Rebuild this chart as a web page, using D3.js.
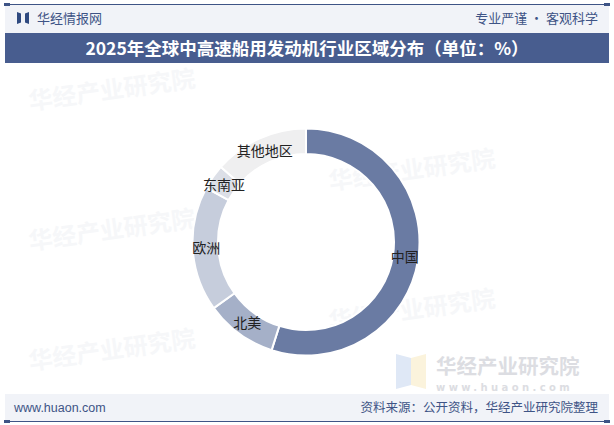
<!DOCTYPE html>
<html><head><meta charset="utf-8">
<script src="https://cdn.jsdelivr.net/npm/d3@7/dist/d3.min.js"></script>
<style>html,body{margin:0;padding:0;background:#fff;}svg{display:block;}</style>
</head><body>
<script>
const categories = ["中国", "北美", "欧洲", "东南亚", "其他地区"];
const values = [54.9, 10.2, 17.8, 3.6, 13.5];
const colors = ["#6a7ba3", "#a5b0c8", "#c6cddc", "#dcdfe7", "#efeff0"];
const title = "2025年全球中高速船用发动机行业区域分布（单位：%）";

const W = 614, H = 425;
const svg = d3.select("body").append("svg").attr("width", W).attr("height", H);
const font = "'Noto Sans CJK SC','Noto Sans',sans-serif";

// watermarks (behind everything)
const wm = svg.append("g").attr("font-family",font).attr("font-weight","bold");
[[30,110],[30,250],[30,370],[330,190],[330,330]].forEach(([x,y])=>{
  wm.append("text").attr("x",x).attr("y",y).attr("transform",`rotate(-8,${x},${y})`).attr("font-size",24).attr("fill","#f6f7f9").text("华经产业研究院");
});

// header
svg.append("rect").attr("x",5).attr("y",5).attr("width",604).attr("height",28).attr("fill","#f1f3f8");
svg.append("line").attr("x1",5).attr("x2",609).attr("y1",4.5).attr("y2",4.5).attr("stroke","#3e5486").attr("stroke-width",1.2);
svg.append("rect").attr("x",4).attr("y",3).attr("width",6).attr("height",3).attr("fill","#3e5486");
svg.append("rect").attr("x",604).attr("y",3).attr("width",6).attr("height",3).attr("fill","#3e5486");
// logo
svg.append("path").attr("d","M17,12 L21,13.5 L21,22.5 L17,24 Z").attr("fill","#2f4a80");
svg.append("path").attr("d","M29,12 L25,13.5 L25,22.5 L29,24 Z").attr("fill","#2f4a80");
svg.append("text").attr("x",37).attr("y",23).attr("font-family",font).attr("font-size",13).attr("fill","#3e5486").text("华经情报网");
svg.append("text").attr("x",598).attr("y",23).attr("text-anchor","end").attr("font-family",font).attr("font-size",13).attr("fill","#3e5486").text("专业严谨 • 客观科学");

// title band
svg.append("rect").attr("x",5).attr("y",33).attr("width",604).attr("height",30).attr("fill","#485d8f");
svg.append("text").attr("x",307).attr("y",54.5).attr("text-anchor","middle").attr("font-family","'Noto Sans CJK SC',sans-serif").attr("font-weight","bold").attr("font-size",17.5).attr("fill","#ffffff").text(title);

// lower right watermark
svg.append("path").attr("d","M396,354 L411,358 L411,385 L396,389 Z").attr("fill","#dfe8f6");
svg.append("path").attr("d","M426,354 L411,358 L411,385 L426,389 Z").attr("fill","#fbf3dc");
svg.append("text").attr("x",436).attr("y",374).attr("font-family",font).attr("font-weight","bold").attr("font-size",20.5).attr("fill","#dcdde2").text("华经产业研究院");
svg.append("text").attr("x",436).attr("y",391).attr("font-family","'DejaVu Sans',sans-serif").attr("font-weight","bold").attr("font-size",10).attr("letter-spacing",3.4).attr("fill","#dcdde2").text("www.huaon.com");

// donut
const cx = 306, cy = 242, R = 113.5, r = 88;
const pie = d3.pie().sort(null).value(d => d.v);
const data = pie(categories.map((c,i)=>({c, v: values[i], col: colors[i]})));
const arc = d3.arc().innerRadius(r).outerRadius(R);
const labelArc = d3.arc().innerRadius(100).outerRadius(100);
const g = svg.append("g").attr("transform",`translate(${cx},${cy})`);
g.selectAll("path.s").data(data).join("path").attr("class","s")
  .attr("d", arc).attr("fill", d => d.data.col).attr("stroke","#ffffff").attr("stroke-width",2);
g.selectAll("text.l").data(data).join("text").attr("class","l")
  .attr("transform", d => `translate(${labelArc.centroid(d)})`)
  .attr("text-anchor","middle").attr("dy","0.35em")
  .attr("font-family",font).attr("font-size",14).attr("fill","#222")
  .text(d => d.data.c);

// footer
svg.append("rect").attr("x",5).attr("y",394).attr("width",604).attr("height",27).attr("fill","#f1f3f8");
svg.append("line").attr("x1",5).attr("x2",609).attr("y1",421.5).attr("y2",421.5).attr("stroke","#3e5486").attr("stroke-width",1.2);
svg.append("rect").attr("x",4).attr("y",420).attr("width",6).attr("height",3).attr("fill","#3e5486");
svg.append("rect").attr("x",604).attr("y",420).attr("width",6).attr("height",3).attr("fill","#3e5486");
svg.append("text").attr("x",14).attr("y",412).attr("font-family","'Liberation Sans',Arial,sans-serif").attr("font-size",12.5).attr("fill","#3e5486").text("www.huaon.com");
svg.append("text").attr("x",598).attr("y",412).attr("text-anchor","end").attr("font-family",font).attr("font-size",12.5).attr("fill","#3e5486").text("资料来源：公开资料，华经产业研究院整理");
</script>
</body></html>
